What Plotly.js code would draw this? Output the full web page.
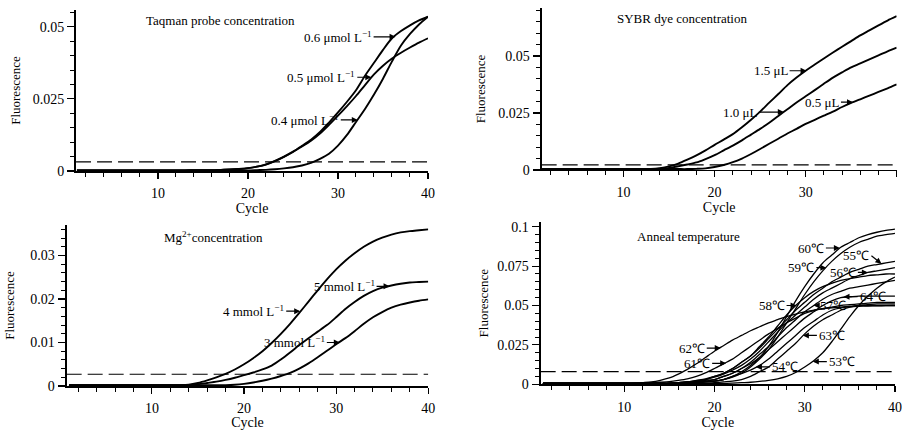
<!DOCTYPE html>
<html><head><meta charset="utf-8">
<script src="https://cdn.plot.ly/plotly-3.0.1.min.js"></script>
<style>html,body{margin:0;padding:0;background:#fff}#chart{width:902px;height:430px}</style>
</head><body><div id="chart"></div>
<script>
const cycles = [1,2,3,4,5,6,7,8,9,10,11,12,13,14,15,16,17,18,19,20,21,22,23,24,25,26,27,28,29,30,31,32,33,34,35,36,37,38,39,40];

// Panel 1: Taqman probe concentration
const taq06 = [0.0002,0.0002,0.0002,0.0002,0.0002,0.0002,0.0002,0.0002,0.0002,0.0002,
  0.0002,0.0002,0.0002,0.0003,0.0003,0.0003,0.0004,0.0005,0.0007,0.0010,
  0.0015,0.0023,0.0035,0.0050,0.0067,0.0087,0.0108,0.0135,0.0168,0.0203,
  0.0240,0.0280,0.0330,0.0375,0.0420,0.0460,0.0485,0.0505,0.0522,0.0535];
const taq05 = [0.0002,0.0002,0.0002,0.0002,0.0002,0.0002,0.0002,0.0002,0.0002,0.0002,
  0.0002,0.0002,0.0002,0.0003,0.0003,0.0003,0.0004,0.0005,0.0007,0.0010,
  0.0015,0.0022,0.0034,0.0049,0.0066,0.0085,0.0105,0.0130,0.0160,0.0192,
  0.0225,0.0260,0.0298,0.0335,0.0365,0.0390,0.0410,0.0428,0.0445,0.0460];
const taq04 = [0.0002,0.0002,0.0002,0.0002,0.0002,0.0002,0.0002,0.0002,0.0002,0.0002,
  0.0002,0.0002,0.0002,0.0002,0.0002,0.0002,0.0002,0.0002,0.0002,0.0002,
  0.0003,0.0004,0.0006,0.0009,0.0013,0.0019,0.0028,0.0042,0.0060,0.0088,
  0.0125,0.0170,0.0215,0.0265,0.0320,0.0380,0.0435,0.0475,0.0508,0.0535];

// Panel 2: SYBR dye concentration
const sybr15 = [0.0004,0.0004,0.0004,0.0004,0.0004,0.0004,0.0004,0.0004,0.0004,0.0004,
  0.0004,0.0004,0.0004,0.0008,0.0016,0.0028,0.0045,0.0064,0.0086,0.0110,
  0.0133,0.0157,0.0187,0.0220,0.0256,0.0295,0.0333,0.0372,0.0405,0.0435,
  0.0462,0.0489,0.0515,0.0540,0.0565,0.0590,0.0612,0.0634,0.0655,0.0674];
const sybr10 = [0.0004,0.0004,0.0004,0.0004,0.0004,0.0004,0.0004,0.0004,0.0004,0.0004,
  0.0004,0.0004,0.0004,0.0006,0.0009,0.0016,0.0024,0.0033,0.0048,0.0065,
  0.0086,0.0107,0.0130,0.0155,0.0180,0.0207,0.0237,0.0266,0.0296,0.0323,
  0.0350,0.0378,0.0405,0.0428,0.0450,0.0467,0.0485,0.0502,0.0520,0.0536];
const sybr05 = [0.0004,0.0004,0.0004,0.0004,0.0004,0.0004,0.0004,0.0004,0.0004,0.0004,
  0.0004,0.0004,0.0004,0.0004,0.0004,0.0004,0.0004,0.0005,0.0007,0.0013,
  0.0022,0.0034,0.0050,0.0070,0.0092,0.0115,0.0137,0.0160,0.0180,0.0202,
  0.0220,0.0238,0.0256,0.0276,0.0294,0.0310,0.0326,0.0342,0.0358,0.0375];

// Panel 3: Mg2+ concentration
const mg4 = [0.0002,0.0002,0.0002,0.0002,0.0002,0.0002,0.0002,0.0002,0.0002,0.0002,
  0.0002,0.0002,0.0002,0.0003,0.0007,0.0013,0.0020,0.0028,0.0038,0.0050,
  0.0064,0.0080,0.0099,0.0120,0.0143,0.0168,0.0194,0.0220,0.0245,0.0268,
  0.0288,0.0305,0.0320,0.0332,0.0341,0.0348,0.0353,0.0356,0.0358,0.0360];
const mg5 = [0.0002,0.0002,0.0002,0.0002,0.0002,0.0002,0.0002,0.0002,0.0002,0.0002,
  0.0002,0.0002,0.0002,0.0002,0.0004,0.0007,0.0010,0.0014,0.0019,0.0025,
  0.0031,0.0038,0.0047,0.0061,0.0077,0.0094,0.0110,0.0125,0.0140,0.0158,
  0.0177,0.0193,0.0207,0.0218,0.0226,0.0231,0.0235,0.0238,0.0239,0.0240];
const mg3 = [0.0002,0.0002,0.0002,0.0002,0.0002,0.0002,0.0002,0.0002,0.0002,0.0002,
  0.0002,0.0002,0.0002,0.0002,0.0002,0.0002,0.0002,0.0002,0.0003,0.0005,
  0.0008,0.0012,0.0017,0.0023,0.0030,0.0040,0.0052,0.0066,0.0081,0.0096,
  0.0110,0.0126,0.0143,0.0158,0.0170,0.0180,0.0187,0.0192,0.0196,0.0199];

// Panel 4: Anneal temperature
const t53 = [0.0005,0.0005,0.0005,0.0005,0.0005,0.0005,0.0005,0.0005,0.0005,0.0005,
  0.0005,0.0005,0.0005,0.0005,0.0005,0.0005,0.0005,0.0005,0.0005,0.0005,
  0.0005,0.0007,0.0010,0.0013,0.0018,0.0025,0.0035,0.0050,0.0075,0.0110,
  0.0150,0.0200,0.0270,0.0350,0.0430,0.0500,0.0560,0.0610,0.0650,0.0680];
const t54 = [0.0005,0.0005,0.0005,0.0005,0.0005,0.0005,0.0005,0.0005,0.0005,0.0005,
  0.0005,0.0005,0.0005,0.0005,0.0005,0.0005,0.0005,0.0010,0.0015,0.0020,
  0.0030,0.0050,0.0068,0.0090,0.0120,0.0160,0.0210,0.0260,0.0310,0.0360,
  0.0400,0.0440,0.0470,0.0485,0.0492,0.0495,0.0497,0.0498,0.0499,0.0500];
const t55 = [0.0005,0.0005,0.0005,0.0005,0.0005,0.0005,0.0005,0.0005,0.0005,0.0005,
  0.0005,0.0005,0.0005,0.0005,0.0005,0.0010,0.0015,0.0025,0.0035,0.0050,
  0.0070,0.0100,0.0140,0.0180,0.0230,0.0290,0.0350,0.0410,0.0470,0.0520,
  0.0570,0.0610,0.0650,0.0680,0.0710,0.0730,0.0750,0.0760,0.0770,0.0780];
const t56 = [0.0005,0.0005,0.0005,0.0005,0.0005,0.0005,0.0005,0.0005,0.0005,0.0005,
  0.0005,0.0005,0.0005,0.0005,0.0005,0.0010,0.0015,0.0020,0.0030,0.0045,
  0.0065,0.0090,0.0120,0.0160,0.0210,0.0270,0.0330,0.0390,0.0440,0.0490,
  0.0540,0.0580,0.0610,0.0640,0.0670,0.0690,0.0710,0.0720,0.0730,0.0740];
const t57 = [0.0005,0.0005,0.0005,0.0005,0.0005,0.0005,0.0005,0.0005,0.0005,0.0005,
  0.0005,0.0005,0.0005,0.0005,0.0005,0.0008,0.0010,0.0015,0.0020,0.0030,
  0.0050,0.0070,0.0100,0.0140,0.0190,0.0240,0.0300,0.0360,0.0410,0.0460,
  0.0500,0.0540,0.0570,0.0590,0.0610,0.0620,0.0630,0.0640,0.0650,0.0660];
const t58 = [0.0005,0.0005,0.0005,0.0005,0.0005,0.0005,0.0005,0.0005,0.0005,0.0005,
  0.0005,0.0005,0.0005,0.0005,0.0005,0.0010,0.0015,0.0020,0.0030,0.0050,
  0.0070,0.0100,0.0140,0.0180,0.0240,0.0300,0.0370,0.0440,0.0500,0.0550,
  0.0590,0.0620,0.0640,0.0660,0.0670,0.0680,0.0690,0.0695,0.0700,0.0700];
const t59 = [0.0005,0.0005,0.0005,0.0005,0.0005,0.0005,0.0005,0.0005,0.0005,0.0005,
  0.0005,0.0005,0.0005,0.0005,0.0005,0.0005,0.0005,0.0010,0.0015,0.0020,
  0.0030,0.0045,0.0070,0.0110,0.0160,0.0220,0.0300,0.0390,0.0480,0.0570,
  0.0650,0.0720,0.0780,0.0830,0.0870,0.0900,0.0920,0.0940,0.0950,0.0958];
const t60 = [0.0005,0.0005,0.0005,0.0005,0.0005,0.0005,0.0005,0.0005,0.0005,0.0005,
  0.0005,0.0005,0.0005,0.0005,0.0005,0.0005,0.0005,0.0010,0.0015,0.0020,
  0.0030,0.0050,0.0080,0.0120,0.0170,0.0240,0.0330,0.0430,0.0530,0.0620,
  0.0700,0.0770,0.0820,0.0870,0.0900,0.0930,0.0950,0.0965,0.0977,0.0985];
const t61 = [0.0005,0.0005,0.0005,0.0005,0.0005,0.0005,0.0005,0.0005,0.0005,0.0005,
  0.0005,0.0005,0.0010,0.0013,0.0017,0.0025,0.0035,0.0050,0.0072,0.0100,
  0.0130,0.0160,0.0200,0.0240,0.0280,0.0320,0.0355,0.0390,0.0420,0.0450,
  0.0468,0.0480,0.0490,0.0500,0.0505,0.0510,0.0515,0.0520,0.0520,0.0520];
const t62 = [0.0005,0.0005,0.0005,0.0005,0.0005,0.0005,0.0005,0.0005,0.0005,0.0005,
  0.0005,0.0010,0.0015,0.0025,0.0040,0.0065,0.0095,0.0130,0.0170,0.0210,
  0.0245,0.0280,0.0310,0.0340,0.0365,0.0390,0.0410,0.0430,0.0445,0.0460,
  0.0470,0.0480,0.0485,0.0490,0.0495,0.0500,0.0500,0.0500,0.0500,0.0500];
const t63 = [0.0005,0.0005,0.0005,0.0005,0.0005,0.0005,0.0005,0.0005,0.0005,0.0005,
  0.0005,0.0005,0.0005,0.0005,0.0005,0.0005,0.0005,0.0005,0.0005,0.0010,
  0.0015,0.0020,0.0030,0.0050,0.0080,0.0110,0.0160,0.0210,0.0260,0.0320,
  0.0370,0.0410,0.0440,0.0470,0.0490,0.0500,0.0505,0.0510,0.0510,0.0510];
const t64 = [0.0005,0.0005,0.0005,0.0005,0.0005,0.0005,0.0005,0.0005,0.0005,0.0005,
  0.0005,0.0005,0.0005,0.0005,0.0005,0.0010,0.0015,0.0020,0.0025,0.0030,
  0.0050,0.0070,0.0100,0.0130,0.0170,0.0220,0.0270,0.0320,0.0370,0.0420,
  0.0460,0.0500,0.0530,0.0550,0.0555,0.0560,0.0560,0.0560,0.0560,0.0560];

// Threshold lines (one per panel)
const thresholds = [0.0032, 0.0022, 0.0027, 0.0080];

// Labels
const panelTitles = ["Taqman probe concentration", "SYBR dye concentration", "Mg<sup>2+</sup>concentration", "Anneal temperature"];
const taqLabels = ["0.6 μmol L<sup>−1</sup>", "0.5 μmol L<sup>−1</sup>", "0.4 μmol L<sup>−1</sup>"];
const sybrLabels = ["1.5 μL", "1.0 μL", "0.5 μL"];
const mgLabels = ["4 mmol L<sup>−1</sup>", "5 mmol L<sup>−1</sup>", "3 mmol L<sup>−1</sup>"];
const tempLabels = ["53℃","54℃","55℃","56℃","57℃","58℃","59℃","60℃","61℃","62℃","63℃","64℃"];

const FONT = "Liberation Serif, Times New Roman, serif";
const xStart = [0.9, 1.0, 0.75, 0.75];

const traces = [];
function addCurve(ys, ax, w) {
  traces.push({x: cycles, y: ys, xaxis: 'x'+ax, yaxis: 'y'+ax, mode: 'lines',
    line: {color: '#000', width: w, shape: 'spline', smoothing: 0.8}, hoverinfo: 'skip', showlegend: false});
}
function addThreshold(i) {
  const ax = i === 0 ? '' : String(i+1);
  traces.push({x: [xStart[i], cycles[cycles.length-1]], y: [thresholds[i], thresholds[i]],
    xaxis: 'x'+ax, yaxis: 'y'+ax, mode: 'lines',
    line: {color: '#000', width: 1.2, dash: '15px,6px'}, hoverinfo: 'skip', showlegend: false});
}
[taq06, taq05, taq04].forEach(s => addCurve(s, '', 1.9));
[sybr15, sybr10, sybr05].forEach(s => addCurve(s, '2', 1.9));
[mg4, mg5, mg3].forEach(s => addCurve(s, '3', 1.9));
[t53,t54,t55,t56,t57,t58,t59,t60,t61,t62,t63,t64].forEach(s => addCurve(s, '4', 1.3));
for (let i = 0; i < 4; i++) addThreshold(i);

function xAxis(dom, i, anchor) {
  return {domain: dom, range: [xStart[i], 40], anchor: anchor, tick0: 0, dtick: 10,
    ticks: 'outside', ticklen: 6, tickwidth: 1.2, tickcolor: '#000',
    showline: true, linewidth: 1.5, linecolor: '#000', showgrid: false, zeroline: false,
    minor: {tick0: 0, dtick: 2, ticks: 'outside', ticklen: 4, tickwidth: 1, tickcolor: '#000', showgrid: false},
    tickfont: {family: FONT, size: 14, color: '#000'}, ticklabelstandoff: 3,
    title: {text: 'Cycle', font: {family: FONT, size: 14, color: '#000'}, standoff: 3},
    automargin: false, fixedrange: true};
}
function yAxis(dom, top, dt, mdt, anchor, standoff) {
  return {domain: dom, range: [0, top], anchor: anchor, tick0: 0, dtick: dt,
    ticks: 'outside', ticklen: 7, tickwidth: 1.2, tickcolor: '#000',
    showline: true, linewidth: 2, linecolor: '#000', showgrid: false, zeroline: false,
    minor: {tick0: 0, dtick: mdt, ticks: 'outside', ticklen: 4, tickwidth: 1, tickcolor: '#000', showgrid: false},
    tickfont: {family: FONT, size: 14, color: '#000'},
    title: {text: 'Fluorescence', font: {family: FONT, size: 13, color: '#000'}, standoff: standoff},
    automargin: false, fixedrange: true};
}

function arrowAnn(axn, x, y, text, dx, dy) {
  return {xref: 'x'+axn, yref: 'y'+axn, x: x, y: y, text: text, showarrow: true,
    ax: dx, ay: dy || 0, xanchor: dx < 0 ? 'right' : 'left', yanchor: 'middle',
    arrowhead: 2, arrowsize: 1, arrowwidth: 1.2, arrowcolor: '#000', standoff: 0,
    font: {family: FONT, size: 13, color: '#000'}};
}
function titleAnn(x, y, text) {
  return {xref: 'paper', yref: 'paper', x: x, y: y, text: text, showarrow: false,
    xanchor: 'center', yanchor: 'middle', font: {family: FONT, size: 13, color: '#000'}};
}

const annotations = [
  titleAnn(0.244, 0.953, panelTitles[0]),
  titleAnn(0.756, 0.958, panelTitles[1]),
  titleAnn(0.237, 0.449, panelTitles[2]),
  titleAnn(0.763, 0.449, panelTitles[3]),
  arrowAnn('', 36.4, 0.0465, taqLabels[0], -22),
  arrowAnn('', 33.7, 0.0325, taqLabels[1], -14),
  arrowAnn('', 32.2, 0.0177, taqLabels[2], -17),
  arrowAnn('2', 30.1, 0.0435, sybrLabels[0], -17),
  arrowAnn('2', 27.6, 0.0254, sybrLabels[1], -25),
  arrowAnn('2', 35.2, 0.0297, sybrLabels[2], -12),
  arrowAnn('3', 26.1, 0.0172, mgLabels[0], -14),
  arrowAnn('3', 35.8, 0.0229, mgLabels[1], -13),
  arrowAnn('3', 30.4, 0.0100, mgLabels[2], -13),
  arrowAnn('4', 30.9, 0.0144, tempLabels[0], 14),
  arrowAnn('4', 24.6, 0.0110, tempLabels[1], 14),
  arrowAnn('4', 38.5, 0.0765, tempLabels[2], -10, -8),
  arrowAnn('4', 37.0, 0.0710, tempLabels[3], -10),
  arrowAnn('4', 31.0, 0.0500, tempLabels[4], 4),
  arrowAnn('4', 29.1, 0.0500, tempLabels[5], -10),
  arrowAnn('4', 32.4, 0.0740, tempLabels[6], -10),
  arrowAnn('4', 33.9, 0.0865, tempLabels[7], -14),
  arrowAnn('4', 21.3, 0.0133, tempLabels[8], -14),
  arrowAnn('4', 20.7, 0.0230, tempLabels[9], -14),
  arrowAnn('4', 29.8, 0.0310, tempLabels[10], 14),
  arrowAnn('4', 34.3, 0.0556, tempLabels[11], 14)
];

const layout = {
  width: 902, height: 430, margin: {l: 0, r: 0, t: 0, b: 0},
  paper_bgcolor: '#fff', plot_bgcolor: '#fff', showlegend: false,
  font: {family: FONT, size: 13, color: '#000'},
  xaxis: xAxis([0.0843, 0.4745], 0, 'y'),
  yaxis: yAxis([0.6023, 0.9767], 0.0558, 0.025, 0.005, 'x', 9),
  xaxis2: xAxis([0.6005, 0.9941], 1, 'y2'),
  yaxis2: yAxis([0.6047, 0.9814], 0.071, 0.025, 0.005, 'x2', 10),
  xaxis3: xAxis([0.0739, 0.4748], 2, 'y3'),
  yaxis3: yAxis([0.1023, 0.4767], 0.037, 0.01, 0.002, 'x3', 13),
  xaxis4: xAxis([0.5994, 0.9922], 3, 'y4'),
  yaxis4: yAxis([0.1063, 0.4837], 0.103, 0.025, 0.005, 'x4', 6),
  annotations: annotations
};

Plotly.newPlot('chart', traces, layout, {staticPlot: true, displayModeBar: false});
</script></body></html>
